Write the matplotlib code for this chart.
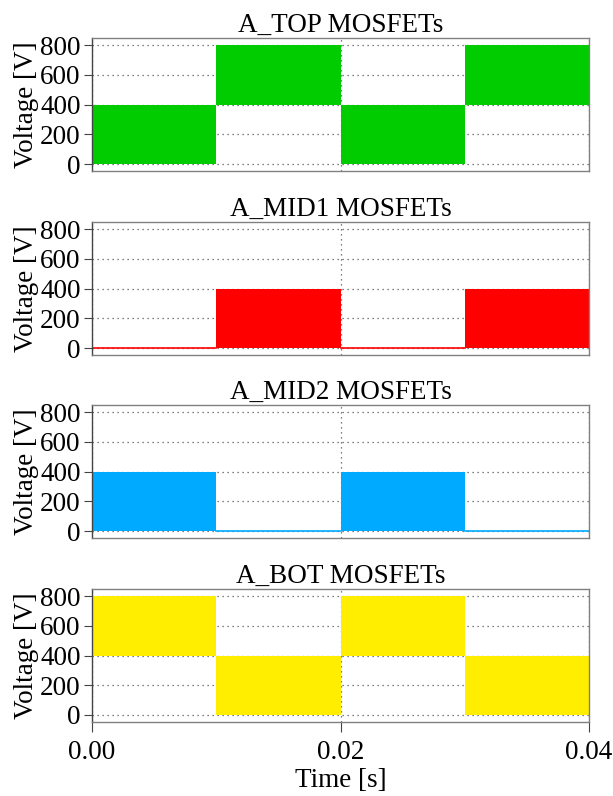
import numpy as np
import matplotlib
matplotlib.use("Agg")
import matplotlib.pyplot as plt

plt.rcParams['font.family'] = ['Liberation Serif', 'DejaVu Serif']
plt.rcParams['font.size'] = 19.5

# switching period boundaries [s]
t_edges = [0.0, 0.01, 0.02, 0.03, 0.04]

titles = ["A_TOP MOSFETs", "A_MID1 MOSFETs", "A_MID2 MOSFETs", "A_BOT MOSFETs"]
colors = ["#00cc00", "#ff0000", "#00aaff", "#ffee00"]

# lower / upper envelope of the switched voltage in each interval [V]
low = [
    [0, 400, 0, 400],
    [0, 0, 0, 0],
    [0, 0, 0, 0],
    [400, 0, 400, 0],
]
high = [
    [400, 800, 400, 800],
    [0, 400, 0, 400],
    [400, 0, 400, 0],
    [800, 400, 800, 400],
]

fig = plt.figure(figsize=(6.13, 7.96), dpi=100)
bottoms = [0.785, 0.554, 0.324, 0.093]
axes = []
for i in range(4):
    ax = fig.add_axes([0.150, bottoms[i], 0.811, 0.167])
    axes.append(ax)
    for k in range(len(t_edges) - 1):
        t = [t_edges[k], t_edges[k + 1]]
        lo = low[i][k]
        hi = high[i][k]
        if hi > lo:
            ax.fill_between(t, [lo, lo], [hi, hi], color=colors[i], lw=0, zorder=2)
        else:
            ax.plot(t, [lo, lo], color=colors[i], lw=1.2, zorder=2)
    ax.set_xlim(0, 0.04)
    ax.set_ylim(-47, 847)
    ax.set_yticks([0, 200, 400, 600, 800])
    ax.set_xticks([0.0, 0.02, 0.04])
    ax.grid(True, linestyle=(0, (1, 3)), color="#555555", lw=0.9, zorder=1)
    ax.set_axisbelow(True)
    ax.set_title(titles[i], fontsize=19.5, pad=4)
    ax.set_ylabel("Voltage [V]", labelpad=1)
    for s in ax.spines.values():
        s.set_color("#808080")
        s.set_linewidth(1.0)
    ax.spines["left"].set_color("#444444")
    ax.tick_params(direction="out", length=6, width=0.8, color="#444444", pad=2)
    if i < 3:
        ax.tick_params(axis="x", labelbottom=False, length=0)

axes[3].tick_params(axis="x", length=7, pad=6)
axes[3].set_xticklabels(["0.00", "0.02", "0.04"])
axes[3].set_xlabel("Time [s]", labelpad=2)

fig.savefig("out.png", dpi=100)
